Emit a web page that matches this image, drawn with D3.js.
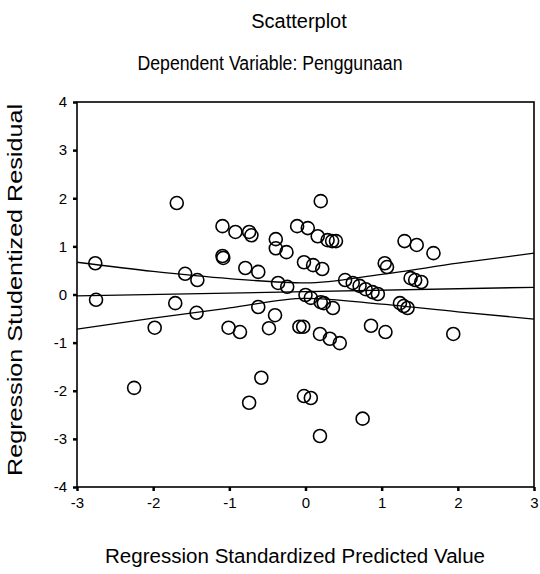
<!DOCTYPE html>
<html>
<head>
<meta charset="utf-8">
<script src="https://cdn.jsdelivr.net/npm/d3@7"></script>
<style>
  body { margin: 0; background: #fff; }
  svg { display: block; font-family: "Liberation Sans", Arial, sans-serif; }
</style>
</head>
<body>
<svg width="540" height="574"></svg>
<script>
// standardized predicted value (x) and studentized residual (y)
var predicted = [
  -2.76, -2.75, -1.69, -1.58, -1.42, -1.71, -1.43, -1.98, -2.25,
  -1.09, -0.92, -0.74, -0.71, -1.09, -1.08, -0.79, -0.62,
  -0.39, -0.39, -0.25, -0.11, 0.03, 0.16, 0.29, 0.35, 0.40, 0.20,
  -0.02, 0.10, 0.22, -0.36, -0.24, 0.00, 0.07, 0.20, 0.24, 0.36,
  -0.62, -0.40, -1.01, -0.86, -0.48, -0.08, -0.03, 0.19, 0.32, 0.45,
  0.86, 1.05, 1.94, -0.58, -0.74, -0.02, 0.07, 0.75, 0.19,
  0.52, 0.62, 0.71, 0.79, 0.88, 0.95, 1.24, 1.29, 1.34,
  1.30, 1.46, 1.68, 1.04, 1.07, 1.38, 1.44, 1.52
];
var residual = [
  0.65, -0.11, 1.90, 0.43, 0.30, -0.18, -0.38, -0.69, -1.94,
  1.42, 1.30, 1.30, 1.23, 0.80, 0.76, 0.55, 0.47,
  1.15, 0.96, 0.88, 1.42, 1.38, 1.21, 1.13, 1.11, 1.11, 1.94,
  0.67, 0.61, 0.53, 0.24, 0.16, -0.01, -0.07, -0.16, -0.18, -0.28,
  -0.26, -0.43, -0.69, -0.78, -0.70, -0.67, -0.67, -0.82, -0.92, -1.01,
  -0.65, -0.78, -0.82, -1.73, -2.25, -2.11, -2.15, -2.58, -2.94,
  0.30, 0.24, 0.18, 0.11, 0.05, 0.01, -0.18, -0.24, -0.28,
  1.11, 1.03, 0.86, 0.65, 0.57, 0.34, 0.30, 0.26
];

// fit line and confidence band
var bandX = [-3, -2, -1, 0, 1, 2, 3];
var bandUpper = [0.67, 0.48, 0.33, 0.24, 0.42, 0.65, 0.86];
var bandLower = [-0.72, -0.49, -0.28, -0.08, -0.20, -0.36, -0.51];
var fitX = [-3, 3];
var fitY = [-0.03, 0.15];

var xTicks = [-3, -2, -1, 0, 1, 2, 3];
var yTicks = [4, 3, 2, 1, 0, -1, -2, -3, -4];

var svg = d3.select('svg');

var x = d3.scaleLinear().domain([-3, 3]).range([77, 534]);
var y = d3.scaleLinear().domain([-4, 4]).range([487, 102]);

// plain hyphen labels like the SPSS output
var fmt = function (d) { return String(d); };

// titles
svg.append('text')
    .attr('x', 299).attr('y', 28)
    .attr('text-anchor', 'middle')
    .attr('font-size', 20)
    .text('Scatterplot');

svg.append('text')
    .attr('x', 270).attr('y', 70)
    .attr('text-anchor', 'middle')
    .attr('font-size', 20)
    .attr('textLength', 265)
    .attr('lengthAdjust', 'spacingAndGlyphs')
    .text('Dependent Variable: Penggunaan');

// frame
svg.append('rect')
    .attr('x', x(-3)).attr('y', y(4))
    .attr('width', x(3) - x(-3)).attr('height', y(-4) - y(4))
    .attr('fill', 'none')
    .attr('stroke', '#000')
    .attr('stroke-width', 1.6);

// axes
var xAxis = d3.axisBottom(x).tickValues(xTicks).tickFormat(fmt).tickSize(4).tickPadding(6);
var yAxis = d3.axisLeft(y).tickValues(yTicks).tickFormat(fmt).tickSize(4).tickPadding(6);

var gx = svg.append('g')
    .attr('transform', 'translate(0,' + y(-4) + ')')
    .call(xAxis);
var gy = svg.append('g')
    .attr('transform', 'translate(' + x(-3) + ',0)')
    .call(yAxis);

[gx, gy].forEach(function (g) {
    g.select('.domain').remove();
    g.selectAll('.tick line').attr('stroke', '#000').attr('stroke-width', 2.5);
    g.selectAll('.tick text')
        .attr('fill', '#000')
        .attr('font-size', 15)
        .attr('font-family', '"Liberation Sans", Arial, sans-serif');
});

// axis titles
svg.append('text')
    .attr('x', 295).attr('y', 563)
    .attr('text-anchor', 'middle')
    .attr('font-size', 20)
    .attr('textLength', 380)
    .attr('lengthAdjust', 'spacingAndGlyphs')
    .text('Regression Standardized Predicted Value');

svg.append('text')
    .attr('transform', 'translate(22,290) rotate(-90)')
    .attr('text-anchor', 'middle')
    .attr('font-size', 21)
    .attr('textLength', 372)
    .attr('lengthAdjust', 'spacingAndGlyphs')
    .text('Regression Studentized Residual');

// fit line + band
var line = d3.line()
    .x(function (d) { return x(d[0]); })
    .y(function (d) { return y(d[1]); })
    .curve(d3.curveMonotoneX);

var lines = [
    d3.zip(bandX, bandUpper),
    d3.zip(fitX, fitY),
    d3.zip(bandX, bandLower)
];

svg.append('g').selectAll('path')
    .data(lines)
    .enter().append('path')
    .attr('d', line)
    .attr('fill', 'none')
    .attr('stroke', '#000')
    .attr('stroke-width', 1.3);

// points
svg.append('g').selectAll('circle')
    .data(d3.zip(predicted, residual))
    .enter().append('circle')
    .attr('cx', function (d) { return x(d[0]); })
    .attr('cy', function (d) { return y(d[1]); })
    .attr('r', 6.5)
    .attr('fill', 'none')
    .attr('stroke', '#000')
    .attr('stroke-width', 1.6);
</script>
</body>
</html>
